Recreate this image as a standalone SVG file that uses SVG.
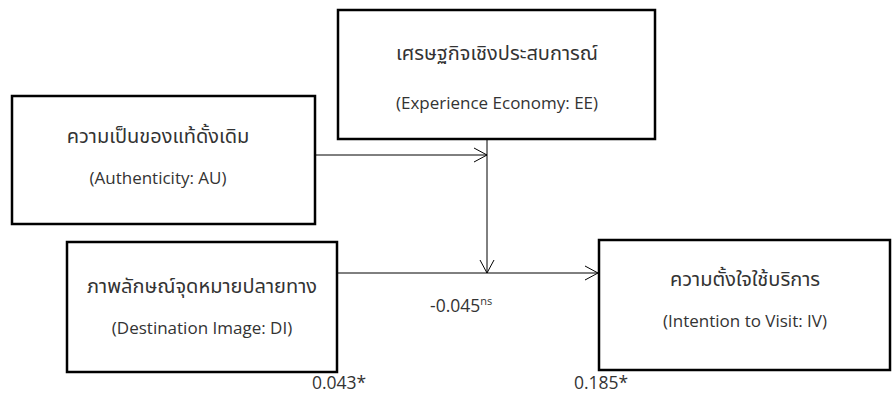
<svg xmlns="http://www.w3.org/2000/svg" width="893" height="400" viewBox="0 0 893 400">
<style>
.box{fill:#fff;stroke:#000;stroke-width:2.5}
.t{font-family:"Noto Sans","Noto Sans Thai","DejaVu Sans",sans-serif;font-size:20px;fill:#333;text-anchor:middle}
.e{font-family:"Open Sans","Noto Sans",sans-serif;font-size:17px;fill:#333;text-anchor:middle}
.l{font-family:"Open Sans","Noto Sans",sans-serif;font-size:17.5px;fill:#333}
.c{fill:none;stroke:#000;stroke-width:1}
</style>
<rect width="893" height="400" fill="#fff"/>
<g id="EE">
<rect class="box" x="338" y="10" width="317" height="129"/>
<text class="t" x="497" y="60">เศรษฐกิจเชิงประสบการณ์</text>
<text class="e" x="497" y="109">(Experience Economy: EE)</text>
</g>
<g id="AU">
<rect class="box" x="12" y="96" width="303" height="128"/>
<text class="t" x="158" y="143">ความเป็นของแท้ดั้งเดิม</text>
<text class="e" x="158" y="184">(Authenticity: AU)</text>
</g>
<g id="DI">
<rect class="box" x="67" y="242" width="270" height="130"/>
<text class="t" x="202" y="293">ภาพลักษณ์จุดหมายปลายทาง</text>
<text class="e" x="202" y="334">(Destination Image: DI)</text>
</g>
<g id="IV">
<rect class="box" x="599" y="240" width="291" height="130"/>
<text class="t" x="745" y="286">ความตั้งใจใช้บริการ</text>
<text class="e" x="745" y="327">(Intention to Visit: IV)</text>
</g>
<g id="connectors">
<line class="c" x1="315" y1="155" x2="487" y2="155"/>
<polyline class="c" points="474,148 487,155 474,162"/>
<line class="c" x1="487" y1="139" x2="487" y2="273"/>
<polyline class="c" points="480,260 487,273 494,260"/>
<line class="c" x1="337" y1="273" x2="598" y2="273"/>
<polyline class="c" points="585,266 598,273 585,280"/>
</g>
<g id="labels">
<text class="l" x="430" y="312">-0.045<tspan font-size="11" dy="-7">ns</tspan></text>
<text class="l" x="312" y="389">0.043*</text>
<text class="l" x="574" y="389">0.185*</text>
</g>
</svg>
